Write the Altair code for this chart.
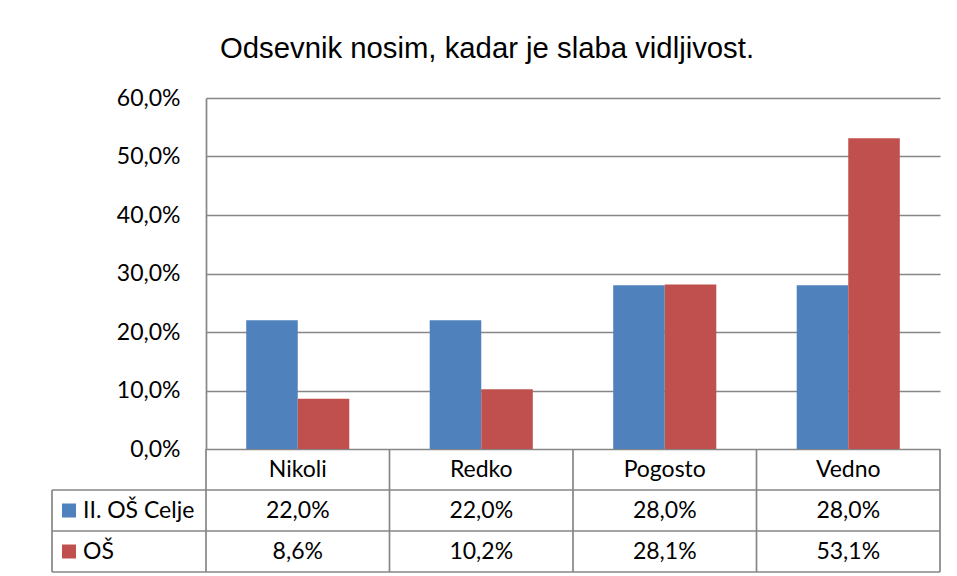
import altair as alt
import pandas as pd

# ---- data ----
categories = ["Nikoli", "Redko", "Pogosto", "Vedno"]
series_names = ["II. OŠ Celje", "OŠ"]
values_celje = [0.220, 0.220, 0.280, 0.280]
values_os = [0.086, 0.102, 0.281, 0.531]
series_colors = ["#4F81BD", "#C0504D"]
y_ticks = [0.0, 0.1, 0.2, 0.3, 0.4, 0.5, 0.6]
title_text = "Odsevnik nosim, kadar je slaba vidljivost."


def pct(v):
    return f"{v * 100:.1f}".replace(".", ",") + "%"


# ---- layout constants ----
W, H = 734, 351
TABLE_H = 123
UNIT = W / 4.0
LEGEND_COL = 154 / UNIT      # width of legend column in category units
SQ_INSET = 17 / UNIT         # legend swatch centre, from the column's left edge
GRID = "#868686"
LW = 1.7
FONT = "Lato"
FS = 23

# ---- frames ----
bar_rows = []
for s, vals in zip(series_names, [values_celje, values_os]):
    for c, v in zip(categories, vals):
        bar_rows.append({"cat": c, "series": s, "value": v})
bars_df = pd.DataFrame(bar_rows)

header_df = pd.DataFrame({"label": categories,
                          "tx": [i + 0.5 for i in range(len(categories))],
                          "ty": [0.5] * len(categories)})

val_rows = []
for r, (s, vals) in enumerate(zip(series_names, [values_celje, values_os])):
    for i, v in enumerate(vals):
        val_rows.append({"label": pct(v), "tx": i + 0.5, "ty": r + 1.5})
values_df = pd.DataFrame(val_rows)

legend_df = pd.DataFrame({"series": series_names,
                          "tx": [-LEGEND_COL] * 2,
                          "sx": [-LEGEND_COL + SQ_INSET] * 2,
                          "ty": [1.5, 2.5]})

line_rows = []
for i in range(len(categories) + 1):
    line_rows.append({"x": i, "x2": i, "y": 0, "y2": 3})
line_rows.append({"x": -LEGEND_COL, "x2": -LEGEND_COL, "y": 1, "y2": 3})
for yy in [1, 2, 3]:
    line_rows.append({"x": -LEGEND_COL, "x2": len(categories), "y": yy, "y2": yy})
lines_df = pd.DataFrame(line_rows)

tx_scale = alt.Scale(domain=[0, len(categories)], nice=False, zero=False)
ty_scale = alt.Scale(domain=[0, 3], range=[H, H + TABLE_H], nice=False, zero=False)
color_scale = alt.Scale(domain=series_names, range=series_colors)

bars = alt.Chart(bars_df).mark_bar().encode(
    x=alt.X("cat:N", sort=categories, axis=None,
            scale=alt.Scale(paddingInner=0, paddingOuter=0)),
    xOffset=alt.XOffset("series:N", sort=series_names,
                        scale=alt.Scale(paddingInner=0, paddingOuter=0.78)),
    y=alt.Y("value:Q", scale=alt.Scale(domain=[0, 0.6], nice=False, zero=True),
            axis=alt.Axis(values=y_ticks, title=None, grid=True, gridColor=GRID,
                          gridWidth=LW, domain=True, domainColor=GRID, domainWidth=LW,
                          ticks=False, labelPadding=26, labelFont=FONT, labelFontSize=FS,
                          labelColor="black",
                          labelExpr="replace(format(datum.value, '.1%'), '.', ',')")),
    color=alt.Color("series:N", scale=color_scale, legend=None),
)

lines = alt.Chart(lines_df).mark_rule(color=GRID, strokeWidth=LW).encode(
    x=alt.X("x:Q", scale=tx_scale, axis=None),
    x2="x2:Q",
    y=alt.Y("y:Q", scale=ty_scale, axis=None),
    y2="y2:Q",
)

header = alt.Chart(header_df).mark_text(font=FONT, fontSize=FS, color="black",
                                        align="center", baseline="middle").encode(
    x=alt.X("tx:Q", scale=tx_scale, axis=None),
    y=alt.Y("ty:Q", scale=ty_scale, axis=None),
    text="label:N",
)

values = alt.Chart(values_df).mark_text(font=FONT, fontSize=FS, color="black",
                                        align="center", baseline="middle").encode(
    x=alt.X("tx:Q", scale=tx_scale, axis=None),
    y=alt.Y("ty:Q", scale=ty_scale, axis=None),
    text="label:N",
)

legend_sq = alt.Chart(legend_df).mark_square(size=196, opacity=1).encode(
    x=alt.X("sx:Q", scale=tx_scale, axis=None),
    y=alt.Y("ty:Q", scale=ty_scale, axis=None),
    color=alt.Color("series:N", scale=color_scale, legend=None),
)

legend_txt = alt.Chart(legend_df).mark_text(font=FONT, fontSize=FS, color="black",
                                            align="left", baseline="middle", dx=31).encode(
    x=alt.X("tx:Q", scale=tx_scale, axis=None),
    y=alt.Y("ty:Q", scale=ty_scale, axis=None),
    text="series:N",
)

chart = alt.layer(bars, lines, header, values, legend_sq, legend_txt).resolve_scale(
    x="independent", y="independent"
).properties(
    width=W,
    height=H,
    autosize=alt.AutoSizeParams(type="none"),
    padding={"left": 198, "top": 90, "right": 9, "bottom": 127},
    background="white",
    title=alt.TitleParams(title_text, font="Liberation Sans", fontSize=29.3,
                          fontWeight="normal", color="black", anchor="middle",
                          dx=-86, offset=23),
).configure_view(stroke=None)

chart.save("out.html", embed_options={"renderer": "svg", "actions": False})
